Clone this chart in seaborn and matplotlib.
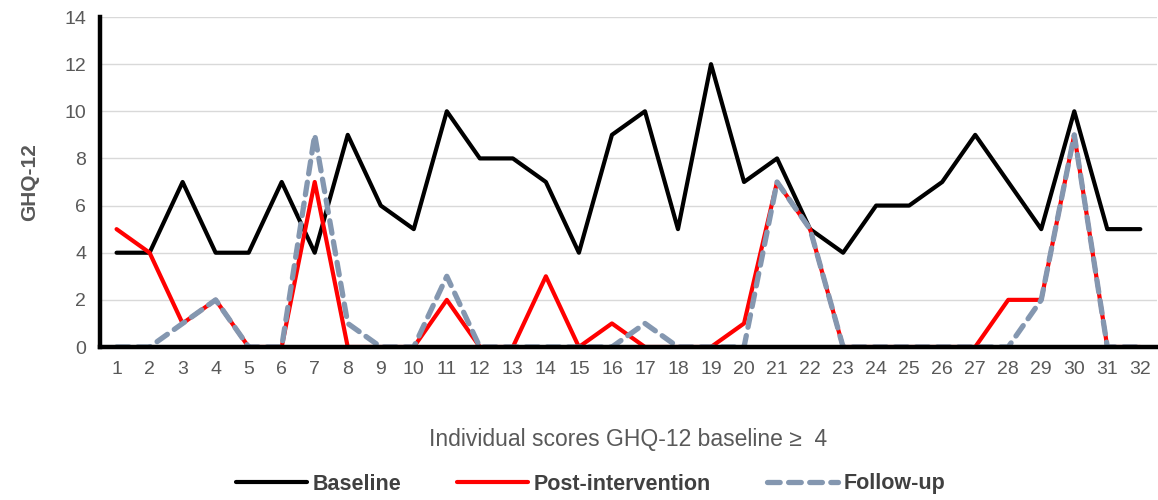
import matplotlib
matplotlib.use('Agg')
import pandas as pd
import numpy as np
import matplotlib.pyplot as plt
import seaborn as sns
from matplotlib.lines import Line2D

# individual scores
subjects = list(range(1, 33))
baseline = [4, 4, 7, 4, 4, 7, 4, 9, 6, 5, 10, 8, 8, 7, 4, 9,
            10, 5, 12, 7, 8, 5, 4, 6, 6, 7, 9, 7, 5, 10, 5, 5]
post_intervention = [5, 4, 1, 2, 0, 0, 7, 0, 0, 0, 2, 0, 0, 3, 0, 1,
                     0, 0, 0, 1, 7, 5, 0, 0, 0, 0, 0, 2, 2, 9, 0, 0]
follow_up = [0, 0, 1, 2, 0, 0, 9, 1, 0, 0, 3, 0, 0, 0, 0, 0,
             1, 0, 0, 0, 7, 5, 0, 0, 0, 0, 0, 0, 2, 9, 0, 0]
y_ticks = list(range(0, 15, 2))

df = pd.DataFrame({
    "subject": subjects * 3,
    "score": baseline + post_intervention + follow_up,
    "phase": ["Baseline"] * 32 + ["Post-intervention"] * 32 + ["Follow-up"] * 32,
})

sns.set_style("white")
plt.rcParams['font.family'] = ['Liberation Sans', 'DejaVu Sans']

fig = plt.figure(figsize=(11.58, 5), dpi=100)
ax = fig.add_axes([0.0864, 0.306, 0.9126, 0.66])

dash = (2.4, 1.6)
palette = {"Baseline": "black", "Post-intervention": "#ff0000", "Follow-up": "#8497b0"}
sns.lineplot(data=df, x="subject", y="score", hue="phase", style="phase",
             palette=palette, dashes={"Baseline": "", "Post-intervention": "", "Follow-up": dash},
             ax=ax, legend=False)
widths = {"Baseline": 3.0, "Post-intervention": 3.0, "Follow-up": 3.8}
for line, name in zip(ax.get_lines(), ["Baseline", "Post-intervention", "Follow-up"]):
    line.set_linewidth(widths[name])
    line.set_dash_capstyle("round")

ax.set_xlim(0.5, 32.5)
ax.set_ylim(0, 14)
ax.set_xticks(subjects)
ax.set_yticks(y_ticks)
ax.tick_params(axis="both", colors="#595959", labelsize=14, length=0, pad=10)
ax.grid(axis="y", color="#d9d9d9", linewidth=1)
ax.set_axisbelow(True)
for s in ["top", "right"]:
    ax.spines[s].set_visible(False)
for s in ["left", "bottom"]:
    ax.spines[s].set_linewidth(3.2)
    ax.spines[s].set_color("black")

ax.set_xlabel("Individual scores GHQ-12 baseline \u2265  4", color="#595959", fontsize=16.5, labelpad=36)
ax.set_ylabel("GHQ-12", color="#595959", fontsize=15, fontweight="bold", labelpad=18)

handles = [
    Line2D([], [], color="black", lw=3.0),
    Line2D([], [], color="#ff0000", lw=3.0),
    Line2D([], [], color="#8497b0", lw=3.8, dashes=dash, dash_capstyle="round"),
]
leg = fig.legend(handles, ["Baseline", "Post-intervention", "Follow-up"], loc="center",
                 bbox_to_anchor=(0.51, 0.032), ncol=3, frameon=False, handlelength=3.3,
                 handletextpad=0.25, columnspacing=2.6,
                 prop={"size": 15.5, "weight": "bold"})
for t in leg.get_texts():
    t.set_color("#404040")

fig.savefig("out.png", dpi=100)
